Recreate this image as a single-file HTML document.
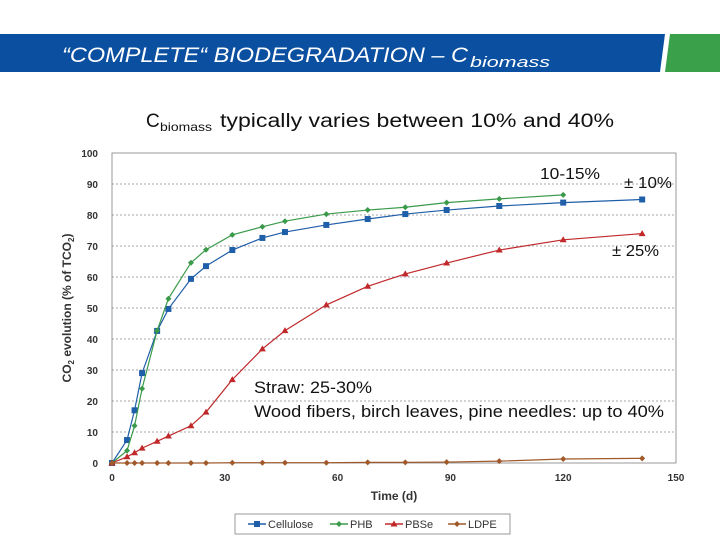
<!DOCTYPE html>
<html><head><meta charset="utf-8"><style>
body{margin:0;width:720px;height:540px;background:#fff;overflow:hidden;font-family:"Liberation Sans",sans-serif}
</style></head><body>
<svg width="720" height="540" xmlns="http://www.w3.org/2000/svg">
<polygon points="0,34 665,34 660,72 0,72" fill="#0b4fa0"/>
<polygon points="670,34 720,34 720,72 665,72" fill="#3aa14a"/>
<text x="62" y="62" fill="#fff" font-size="21" font-style="italic" textLength="406" lengthAdjust="spacingAndGlyphs">“COMPLETE“ BIODEGRADATION – C</text>
<text x="470" y="67" fill="#fff" font-size="15" font-style="italic" textLength="80" lengthAdjust="spacingAndGlyphs">biomass</text>
<text x="146" y="127" font-size="19" fill="#111">C</text>
<text x="160" y="131" font-size="12" fill="#111" textLength="52" lengthAdjust="spacingAndGlyphs">biomass</text>
<text x="220" y="127" font-size="19" fill="#111" textLength="394" lengthAdjust="spacingAndGlyphs">typically varies between 10% and 40%</text>
<g id="chart"></g>
<text x="540" y="179" font-size="16" fill="#111" textLength="60" lengthAdjust="spacingAndGlyphs">10-15%</text>
<text x="624" y="188" font-size="16" fill="#111" textLength="48" lengthAdjust="spacingAndGlyphs">± 10%</text>
<text x="612" y="256" font-size="16" fill="#111" textLength="47" lengthAdjust="spacingAndGlyphs">± 25%</text>
<text x="254" y="393" font-size="16.5" fill="#111" textLength="118" lengthAdjust="spacingAndGlyphs">Straw: 25-30%</text>
<text x="254" y="417" font-size="16.5" fill="#111" textLength="410" lengthAdjust="spacingAndGlyphs">Wood fibers, birch leaves, pine needles: up to 40%</text>
</svg>
<script>
const days=[0,4,6,8,12,15,21,25,32,40,46,57,68,78,89,103,120,141];
const cellulose=[0,7.4,17,29,42.6,49.7,59.4,63.5,68.7,72.6,74.5,76.8,78.7,80.3,81.6,82.9,84,85];
const phbDays=[0,4,6,8,12,15,21,25,32,40,46,57,68,78,89,103,120];
const phb=[0,4,12,24,42.7,53,64.6,68.8,73.6,76.2,78,80.3,81.6,82.5,84,85.2,86.5];
const pbse=[0,2,3.3,4.8,7,8.7,12,16.4,26.9,36.8,42.7,51,57,61,64.5,68.7,72,74];
const ldpe=[0,0,0,0,0,0,0,0,0.1,0.1,0.1,0.1,0.2,0.2,0.3,0.6,1.3,1.5];
const xTicks=[0,30,60,90,120,150];
const yTicks=[0,10,20,30,40,50,60,70,80,90,100];
const NS='http://www.w3.org/2000/svg';
const g=document.getElementById('chart');
const X0=112,X1=676,Y0=463,Y1=153;
const sx=d=>X0+d/150*(X1-X0), sy=v=>Y0-v/100*(Y0-Y1);
function mk(t,a){const e=document.createElementNS(NS,t);for(const k in a)e.setAttribute(k,a[k]);g.appendChild(e);return e;}
let r=mk('rect',{x:X0,y:Y1,width:X1-X0,height:Y0-Y1,fill:'none',stroke:'#999'});


yTicks.forEach(v=>{
 if(v>0&&v<100){let l=mk('line',{x1:X0,x2:X1,y1:sy(v),y2:sy(v),stroke:'#888','stroke-dasharray':'2,2','stroke-width':0.8});
 
 }
 let t=mk('text',{x:98,y:sy(v)+4,'font-size':10,'font-weight':'bold','text-anchor':'end',fill:'#333'});
 t.textContent=v;
 
 
});
xTicks.forEach(v=>{
 let t=mk('text',{x:sx(v),y:481,'font-size':10,'font-weight':'bold','text-anchor':'middle',fill:'#333'});
 t.textContent=v;
 
 
});
let xt=mk('text',{x:sx(75),y:500,'font-size':12,'font-weight':'bold','text-anchor':'middle',fill:'#333'});
xt.textContent='Time (d)';


let yt=mk('text',{x:0,y:0,'font-size':12,'font-weight':'bold','text-anchor':'middle',fill:'#333',transform:'translate(71,308) rotate(-90)'});
yt.innerHTML='CO<tspan font-size="8" dy="3">2</tspan><tspan dy="-3"> evolution (% of TCO</tspan><tspan font-size="8" dy="3">2</tspan><tspan dy="-3">)</tspan>';


function marker(type,x,y,c){
 if(type==='sq')return mk('rect',{x:x-3,y:y-3,width:6,height:6,fill:c});
 if(type==='tri')return mk('polygon',{points:`${x},${y-3.5} ${x+3.5},${y+2.5} ${x-3.5},${y+2.5}`,fill:c});
 return mk('polygon',{points:`${x},${y-3} ${x+3},${y} ${x},${y+3} ${x-3},${y}`,fill:c});
}
const series=[['cellulose',days,cellulose,'#1f5ea8','sq'],['phb',phbDays,phb,'#3a9a4a','dia'],['pbse',days,pbse,'#c0282a','tri'],['ldpe',days,ldpe,'#a0592a','dia']];
series.forEach(([n,xs,ys,c,m])=>{
 let p=mk('polyline',{points:xs.map((d,i)=>sx(d)+','+sy(ys[i])).join(' '),fill:'none',stroke:c,'stroke-width':1.2});
 
 
 xs.forEach((d,i)=>{let e=marker(m,sx(d),sy(ys[i]),c);
  
  });
});
let lb=mk('rect',{x:235,y:514,width:275,height:20,fill:'#fff',stroke:'#999'});


const lx=[248,330,385,448],lbl=['Cellulose','PHB','PBSe','LDPE'];
series.forEach(([n,xs,ys,c,m],i)=>{
 let l=mk('line',{x1:lx[i],x2:lx[i]+18,y1:524,y2:524,stroke:c,'stroke-width':1.5});
 
 
 let mm=marker(m,lx[i]+9,524,c);
 
 
 let t=mk('text',{x:lx[i]+20,y:528,'font-size':11,fill:'#333'});
 t.textContent=lbl[i];
 
 
});
</script>
</body></html>
